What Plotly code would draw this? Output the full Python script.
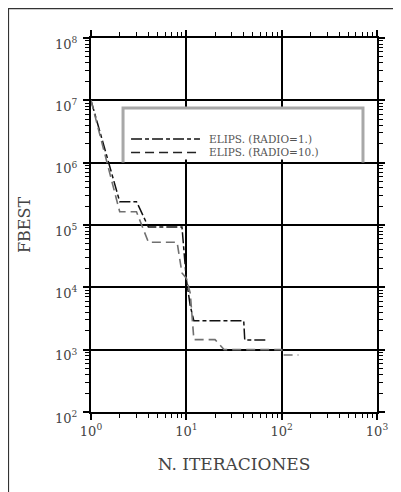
import plotly.graph_objects as go

# ---- data ----
iter_r1 = [1, 2, 3, 4, 9, 10, 11, 12, 40, 41, 70]
fbest_r1 = [1.0e7, 2.37e5, 2.37e5, 9.3e4, 9.3e4, 1.35e4, 5.0e3, 2.9e3, 2.9e3, 1.43e3, 1.43e3]

iter_r10 = [1, 2, 3, 4, 8, 9, 10, 11, 12, 20, 25, 100, 102, 150]
fbest_r10 = [1.0e7, 1.63e5, 1.63e5, 5.3e4, 5.3e4, 1.7e4, 1.4e4, 8.0e3, 1.45e3, 1.45e3, 1.0e3, 1.0e3, 8.2e2, 8.2e2]

name_r1 = "ELIPS. (RADIO=1.)"
name_r10 = "ELIPS. (RADIO=10.)"

x_tickvals = [1, 10, 100, 1000]
x_ticktext = ["10<sup>0</sup>", "10<sup>1</sup>", "10<sup>2</sup>", "10<sup>3</sup>"]
y_tickvals = [1e2, 1e3, 1e4, 1e5, 1e6, 1e7, 1e8]
y_ticktext = ["10<sup>2</sup>", "10<sup>3</sup>", "10<sup>4</sup>", "10<sup>5</sup>",
              "10<sup>6</sup>", "10<sup>7</sup>", "10<sup>8</sup>"]

FONT = "DejaVu Serif"
DASH_R1 = "11px,3px,4px,3px"
DASH_R10 = "9px,5px"

x_minor = [m * 10 ** e for e in range(0, 3) for m in range(2, 10)]
y_minor = [m * 10 ** e for e in range(2, 8) for m in range(2, 10)]

fig = go.Figure()
fig.add_trace(go.Scatter(x=iter_r1, y=fbest_r1, mode="lines", name=name_r1,
                         line=dict(color="#111111", width=1.5, dash=DASH_R1)))
fig.add_trace(go.Scatter(x=iter_r10, y=fbest_r10, mode="lines", name=name_r10,
                         line=dict(color="#707070", width=1.6, dash=DASH_R10)))

axis_common = dict(
    type="log", showline=True, linecolor="black", linewidth=2, mirror="ticks",
    ticks="outside", ticklen=6, tickwidth=2, tickcolor="black",
    showgrid=True, gridcolor="black", gridwidth=2, zeroline=False,
    tickfont=dict(family=FONT, size=13, color="#444444"),
)

fig.update_xaxes(range=[0, 3], tickvals=x_tickvals, ticktext=x_ticktext,
                 minor=dict(tickvals=x_minor, ticks="outside", ticklen=4, tickwidth=1,
                            tickcolor="black", showgrid=False),
                 title=dict(text="N. ITERACIONES", font=dict(family=FONT, size=17, color="#444444"),
                            standoff=21),
                 **axis_common)
fig.update_yaxes(range=[2, 8], tickvals=y_tickvals, ticktext=y_ticktext,
                 minor=dict(tickvals=y_minor, ticks="outside", ticklen=4, tickwidth=1,
                            tickcolor="black", showgrid=False),
                 ticklabelshift=6, ticklabelstandoff=3,
                 title=dict(text="FBEST", font=dict(family=FONT, size=16, color="#444444"),
                            standoff=20),
                 **axis_common)

# legend box (white fill + grey border, open at the bottom where the grid line sits)
fig.add_shape(type="rect", xref="paper", yref="paper", x0=0.112, x1=0.951, y0=0.675, y1=0.813,
              fillcolor="white", line=dict(width=0), layer="above")
fig.add_shape(type="path", xref="paper", yref="paper",
              path="M 0.112,0.667 L 0.112,0.813 L 0.951,0.813 L 0.951,0.667",
              line=dict(color="#a8a8a8", width=3), layer="above")

# legend keys and labels
legend_rows = [(name_r1, DASH_R1, "#111111", 0.730), (name_r10, DASH_R10, "#222222", 0.6939)]
for label, dash, color, ypos in legend_rows:
    fig.add_shape(type="line", xref="paper", yref="paper", x0=0.140, x1=0.381, y0=ypos, y1=ypos,
                  line=dict(color=color, width=1.6, dash=dash), layer="above")
    fig.add_annotation(text=label, xref="paper", yref="paper", x=0.409, y=ypos,
                       xanchor="left", yanchor="middle", showarrow=False, borderpad=0,
                       font=dict(family=FONT, size=10.5, color="#555555"))

# outer frame
fig.add_shape(type="rect", xref="paper", yref="paper", x0=-0.289, x1=1.075, y0=-0.3, y1=1.079,
              line=dict(color="#333333", width=1.5), fillcolor="rgba(0,0,0,0)", layer="above")

# page body has an 8px margin, so the figure is 8px smaller than the window
fig.update_layout(
    width=393, height=484,
    margin=dict(l=83, r=24, t=30, b=80, autoexpand=False),
    paper_bgcolor="white", plot_bgcolor="white",
    showlegend=False,
    font=dict(family=FONT),
)

fig.write_html("out.html")
